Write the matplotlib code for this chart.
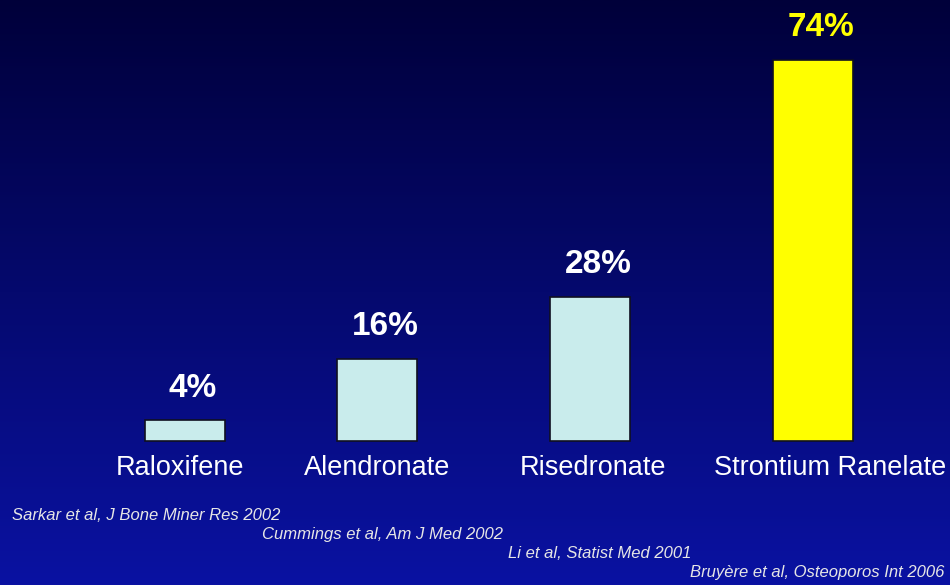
import numpy as np
import matplotlib.pyplot as plt

# drug names, percentages and references
drugs = ['Raloxifene', 'Alendronate', 'Risedronate', 'Strontium Ranelate']
values = [4, 16, 28, 74]
refs = ['Sarkar et al, J Bone Miner Res 2002',
        'Cummings et al, Am J Med 2002',
        'Li et al, Statist Med 2001',
        'Bruyère et al, Osteoporos Int 2006']

plt.rcParams['font.family'] = ['Liberation Sans', 'DejaVu Sans']

W, H = 950, 585
fig = plt.figure(figsize=(W / 100, H / 100), dpi=100)
ax = fig.add_axes([0, 0, 1, 1])

# y scale: baseline at pixel row 441, ~5.15 px per percent
px_per = 5.15
base = 441
ymax = base / px_per
ymin = -(H - base) / px_per
ax.set_xlim(0, W)
ax.set_ylim(ymin, ymax)
ax.axis('off')

# dark navy to blue gradient background
top = np.array([0, 0, 0x3a]) / 255
bot = np.array([0x0a, 0x12, 0xa2]) / 255
t = np.linspace(0, 1, 256)[:, None]
grad = (top * (1 - t) + bot * t)[:, None, :]
ax.imshow(grad, extent=[0, W, ymin, ymax], aspect='auto', zorder=0)

xpos = [185, 377, 590, 813]
colors = ['#c9ecec', '#c9ecec', '#c9ecec', '#ffff00']
lab_colors = ['white', 'white', 'white', '#ffff00']

ax.bar(xpos, values, width=80, color=colors, edgecolor='#101020',
       linewidth=1.2, zorder=2)

for x, v, c in zip(xpos, values, lab_colors):
    ax.text(x + 8, v + 3.2, f'{v}%', ha='center', va='bottom',
            fontsize=24, fontweight='bold', color=c, zorder=3)

name_x = [180, 377, 593, 830]
for x, name in zip(name_x, drugs):
    ax.text(x, -5.2, name, ha='center', va='center', fontsize=19.5,
            color='white', zorder=3)

# references along the bottom
ref_pos = [(12, 515, 'left'), (262, 534, 'left'), (508, 553, 'left'),
           (944, 572, 'right')]
for (x, y, ha), r in zip(ref_pos, refs):
    fig.text(x / W, 1 - y / H, r, ha=ha, va='center', fontsize=12,
             style='italic', color='#e6e6e6')

fig.savefig('out.png', dpi=100)
